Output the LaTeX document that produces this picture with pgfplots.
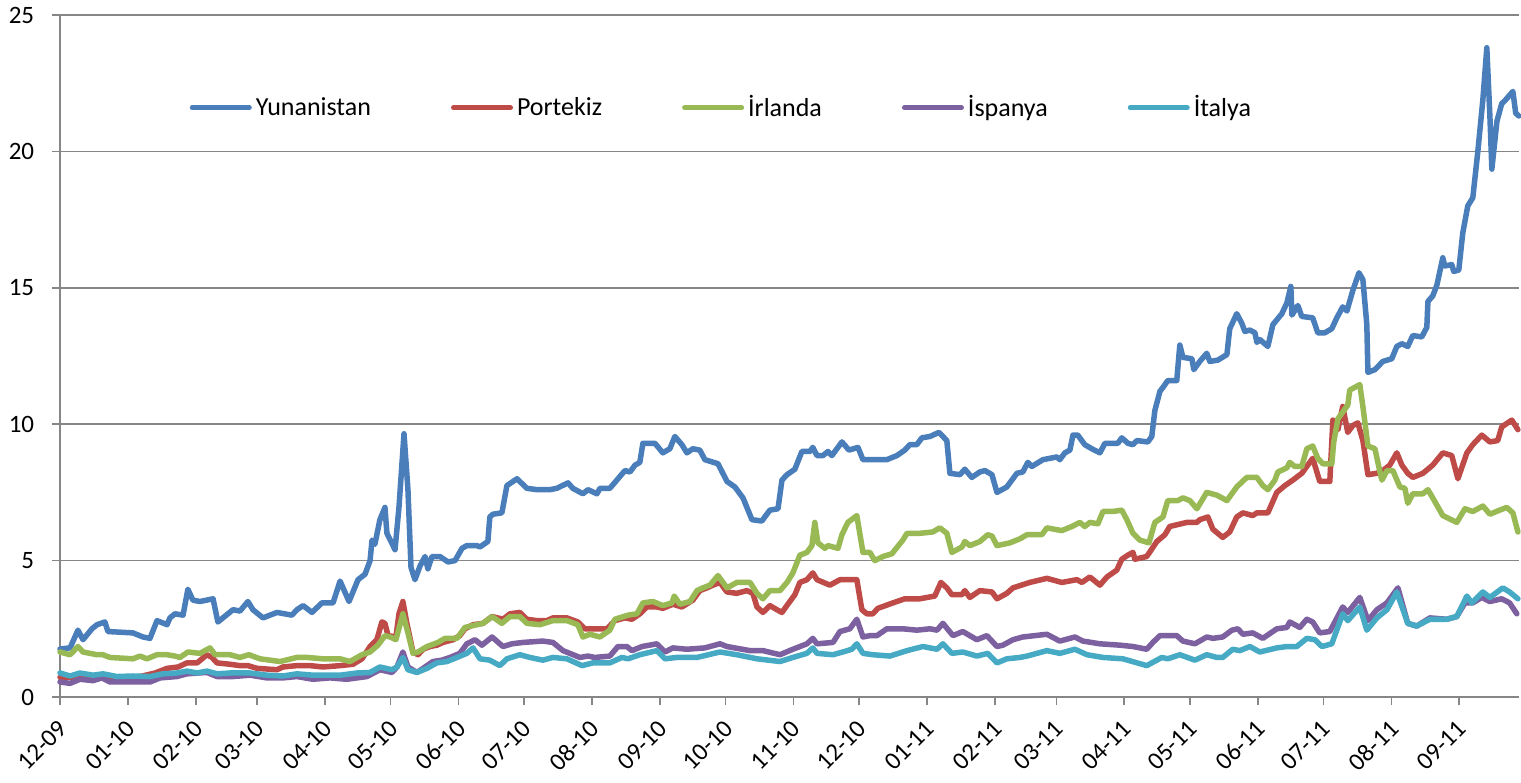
\documentclass[border=0pt]{standalone}
\usepackage{fontspec}
\setmainfont{Carlito}
\usepackage{pgfplots}
\pgfplotsset{compat=1.18}
\definecolor{grc}{HTML}{4A7EBB}
\definecolor{prc}{HTML}{BE4B48}
\definecolor{irc}{HTML}{98B954}
\definecolor{esc}{HTML}{7D60A0}
\definecolor{itc}{HTML}{46AAC5}
\definecolor{gridc}{HTML}{868686}
\begin{document}
\begin{tikzpicture}
\begin{axis}[
  scale only axis,
  width=729.5pt, height=341pt,
  xmin=0, xmax=666.3, ymin=0, ymax=25,
  axis lines=left,
  axis line style={-, draw=gridc, line width=0.8pt},
  ytick={0,5,10,15,20,25},
  xtick={0,31,62,90,121,151,182,212,243,274,304,335,365,396,427,455,486,516,547,577,608,639},
  xticklabels={12-09,01-10,02-10,03-10,04-10,05-10,06-10,07-10,08-10,09-10,10-10,11-10,12-10,01-11,02-11,03-11,04-11,05-11,06-11,07-11,08-11,09-11},
  tick align=outside,
  major tick length=3.75pt,
  tick style={draw=gridc, line width=0.8pt},
  ymajorgrids,
  major grid style={draw=gridc, line width=0.8pt},
  /pgf/number format/assume math mode=true,
  ticklabel style={font=\fontsize{12.5}{15}\selectfont, text=black},
  xticklabel style={xshift=1.5pt, yshift=-10pt, rotate=45, anchor=east, inner sep=0pt},
  yticklabel style={inner sep=0pt, xshift=-9pt},
  legend style={at={(0.454,0.864)}, anchor=center, draw=none, fill=none,
    legend columns=5, font=\fontsize{13}{15}\selectfont,
    /tikz/every even column/.append style={column sep=38pt}},
  legend image code/.code={\draw[line width=2.5pt, line cap=round] (0pt,0pt) -- (28.5pt,0pt);},
  every axis plot/.append style={line width=2.75pt, line join=round, line cap=round, mark=none},
  clip=false,
]
\coordinate (bl) at (rel axis cs:0,0);
\coordinate (tr) at (rel axis cs:1,1);

% Yunanistan
\addplot[grc] coordinates {
(0,1.76)(4.6,1.8)(8.2,2.45)(10.5,2.1)(14.6,2.5)(16.9,2.65)(20.5,2.75)(21.9,2.4)
(33.3,2.35)(37.9,2.2)(41.1,2.15)(44.3,2.8)(48.9,2.65)(50.2,2.9)(52.5,3.05)(56.2,3.0)
(58.4,3.95)(60.7,3.55)(63.9,3.5)(69.9,3.6)(72.1,2.75)(74.4,2.9)(79.0,3.2)(82.2,3.15)
(85.8,3.5)(88.1,3.2)(92.7,2.9)(99.1,3.1)(105.9,3.0)(108.2,3.2)(111.0,3.35)(115.1,3.1)
(119.6,3.45)(124.7,3.45)(127.9,4.25)(132.0,3.5)(136.1,4.3)(139.3,4.5)(141.6,5.0)(142.5,5.75)
(143.8,5.6)(146.1,6.5)(148.4,6.95)(149.3,6.0)(153.0,5.4)(154.8,6.95)(157.1,9.65)(158.9,7.6)
(160.3,4.75)(162.1,4.3)(164.4,4.8)(166.7,5.15)(168.0,4.7)(169.9,5.15)(173.5,5.15)(177.2,4.95)
(180.4,5.0)(183.6,5.45)(185.8,5.55)(190.4,5.55)(191.8,5.5)(195.4,5.7)(196.3,6.6)(197.7,6.7)
(201.8,6.75)(204.1,7.75)(208.7,8.0)(213.2,7.65)(217.8,7.6)(223.7,7.6)(226.9,7.65)(232.0,7.85)
(234.2,7.65)(238.8,7.45)(241.1,7.6)(245.2,7.45)(246.6,7.65)(251.1,7.65)(254.3,7.95)(258.0,8.3)
(260.3,8.25)(262.6,8.5)(264.8,8.6)(266.2,9.3)(271.7,9.3)(275.3,8.95)(278.5,9.1)(280.8,9.55)
(284.0,9.25)(286.3,8.95)(289.0,9.1)(292.2,9.05)(294.5,8.7)(300.5,8.55)(304.6,7.9)(308.2,7.7)
(311.9,7.3)(316.0,6.5)(320.5,6.45)(324.2,6.85)(327.9,6.9)(329.7,7.95)(332.0,8.15)(335.6,8.35)
(338.8,9.0)(342.5,9.0)(343.8,9.15)(345.7,8.85)(348.4,8.85)(350.7,9.0)(352.5,8.85)(357.1,9.35)
(360.3,9.05)(364.4,9.15)(366.7,8.7)(372.1,8.7)(377.6,8.7)(382.2,8.85)(385.8,9.05)(388.1,9.25)
(391.3,9.25)(393.6,9.5)(397.3,9.55)(401.4,9.7)(405.0,9.4)(406.4,8.2)(411.0,8.15)(413.2,8.35)
(416.4,8.05)(420.1,8.25)(422.4,8.3)(425.6,8.15)(427.9,7.5)(432.4,7.7)(437.0,8.2)(439.7,8.25)
(442.0,8.6)(443.8,8.45)(448.9,8.7)(455.3,8.8)(456.6,8.7)(458.9,8.95)(461.2,9.05)(462.6,9.6)
(464.8,9.6)(468.0,9.25)(471.2,9.1)(474.9,8.95)(477.2,9.3)(483.1,9.3)(484.9,9.5)(487.7,9.3)
(490.0,9.25)(491.8,9.4)(496.8,9.35)(498.6,9.55)(500.0,10.5)(502.3,11.2)(503.7,11.35)(505.9,11.6)
(510.0,11.6)(511.4,12.9)(512.8,12.45)(516.9,12.4)(517.8,12.0)(520.5,12.3)(523.7,12.6)(525.1,12.3)
(528.8,12.35)(532.9,12.55)(534.2,13.5)(537.4,14.05)(539.7,13.7)(541.1,13.4)(543.4,13.45)(545.7,13.35)
(546.6,13.0)(548.0,13.1)(551.6,12.85)(553.9,13.65)(558.0,14.05)(560.3,14.45)(562.1,15.05)(562.6,14.0)
(565.3,14.35)(567.1,13.95)(572.1,13.9)(574.4,13.35)(577.6,13.35)(580.8,13.5)(583.1,13.9)(585.8,14.3)
(587.7,14.15)(590.4,14.9)(593.2,15.55)(595.0,15.3)(596.8,13.65)(597.3,11.9)(600.5,12.0)(604.1,12.3)
(608.2,12.4)(610.5,12.85)(612.8,12.95)(615.5,12.85)(617.8,13.25)(621.9,13.2)(624.2,13.55)(624.7,14.5)
(626.9,14.7)(628.8,15.1)(631.5,16.1)(632.4,15.8)(635.6,15.85)(636.5,15.6)(638.8,15.65)(640.6,17.0)
(642.9,18.0)(645.2,18.3)(647.5,20.0)(649.8,21.9)(651.6,23.8)(653.0,21.3)(653.9,19.35)(656.2,21.1)
(658.4,21.75)(660.3,21.9)(663.5,22.2)(664.8,21.4)(666.2,21.3)
};
\addlegendentry{Yunanistan}

% Portekiz
\addplot[prc] coordinates {
(0,0.72)(20,0.7)(35,0.72)(43.4,0.88)(48.9,1.05)(53.9,1.1)(58.0,1.25)(62.6,1.25)
(67.1,1.55)(69.4,1.45)(71.7,1.25)(77.6,1.2)(82.2,1.15)(85.8,1.15)(90.0,1.05)(99.1,1.0)
(101.8,1.1)(108.2,1.15)(114.2,1.15)(120.1,1.1)(127.9,1.15)(133.8,1.2)(137.9,1.4)(141.6,1.85)
(144.7,2.1)(147.0,2.75)(148.4,2.7)(149.8,2.25)(153.4,2.2)(154.8,3.05)(156.6,3.5)(158.4,2.7)
(161.2,1.65)(163.5,1.55)(165.8,1.75)(169.0,1.85)(172.1,1.9)(174.9,2.0)(179.5,2.1)(182.6,2.25)
(184.9,2.5)(188.6,2.65)(193.2,2.7)(197.3,2.95)(202.3,2.85)(205.5,3.05)(210.0,3.1)(213.2,2.85)
(217.8,2.8)(222.4,2.8)(225.1,2.9)(231.5,2.9)(236.5,2.75)(239.7,2.5)(242.9,2.5)(249.8,2.5)
(253.4,2.8)(258.0,2.9)(261.2,2.85)(264.8,3.05)(268.0,3.3)(272.6,3.3)(275.3,3.25)(279.9,3.4)
(284.0,3.3)(289.0,3.55)(292.2,3.9)(295.4,4.0)(298.2,4.1)(301.4,4.2)(304.6,3.85)(309.1,3.8)
(313.7,3.9)(316.4,3.8)(318.3,3.3)(321.0,3.1)(324.2,3.35)(327.4,3.2)(329.7,3.1)(333.3,3.5)
(335.6,3.75)(337.9,4.2)(341.1,4.3)(343.8,4.55)(345.7,4.3)(351.6,4.1)(356.2,4.3)(363.9,4.3)
(366.2,3.2)(368.5,3.05)(371.2,3.05)(373.5,3.25)(380.4,3.45)(385.8,3.6)(392.7,3.6)(399.5,3.7)
(402.3,4.2)(405.0,4.0)(407.3,3.75)(411.9,3.75)(413.2,3.9)(415.5,3.65)(420.1,3.9)(425.6,3.85)
(427.9,3.6)(432.4,3.8)(435.2,4.0)(442.9,4.2)(450.7,4.35)(457.5,4.2)(464.4,4.3)(466.7,4.2)
(470.3,4.4)(474.9,4.1)(478.1,4.4)(482.6,4.65)(484.9,5.05)(487.7,5.2)(490.0,5.3)(490.9,5.05)
(496.3,5.15)(500.9,5.7)(504.6,5.95)(506.8,6.25)(514.6,6.4)(519.2,6.4)(520.5,6.5)(524.2,6.6)
(526.5,6.15)(531.0,5.85)(534.2,6.05)(537.4,6.6)(540.2,6.75)(544.7,6.65)(546.6,6.75)(551.6,6.75)
(555.7,7.5)(559.4,7.75)(563.0,7.95)(567.1,8.2)(572.1,8.75)(575.3,7.9)(579.9,7.9)(581.3,10.15)
(583.6,9.8)(585.8,10.65)(588.1,9.7)(590.4,9.95)(592.7,10.05)(595.0,9.4)(597.3,8.15)(601.4,8.2)
(604.1,8.3)(607.3,8.5)(610.5,8.95)(612.8,8.5)(615.5,8.2)(617.8,8.05)(622.4,8.2)(626.9,8.5)
(631.5,8.95)(635.6,8.85)(638.4,8.0)(642.5,8.95)(645.2,9.25)(649.3,9.6)(653.0,9.35)(656.6,9.4)
(658.4,9.9)(663.0,10.15)(665.8,9.8)
};
\addlegendentry{Portekiz}

% Irlanda
\addplot[irc] coordinates {
(0,1.65)(4.6,1.55)(8.2,1.85)(10.5,1.65)(16.9,1.55)(19.6,1.55)(22.8,1.45)(33.3,1.4)
(36.5,1.5)(39.7,1.4)(44.3,1.55)(48.9,1.55)(52.5,1.5)(54.8,1.45)(58.4,1.65)(63.9,1.6)
(68.5,1.8)(70.8,1.55)(77.6,1.55)(82.2,1.45)(86.3,1.55)(91.3,1.4)(100.5,1.3)(108.2,1.45)
(112.8,1.45)(120.1,1.4)(127.9,1.4)(132.4,1.3)(137.9,1.55)(141.6,1.65)(145.2,1.9)(148.4,2.25)
(150.7,2.2)(153.4,2.1)(156.6,3.05)(158.9,2.35)(161.2,1.6)(163.5,1.65)(167.6,1.85)(172.6,2.0)
(175.8,2.15)(181.3,2.15)(184.9,2.55)(190.4,2.65)(193.2,2.7)(197.3,2.95)(201.8,2.7)(205.5,2.95)
(210.0,2.95)(213.2,2.7)(219.2,2.65)(225.1,2.8)(231.5,2.8)(236.5,2.65)(238.8,2.2)(242.0,2.3)
(246.6,2.2)(251.1,2.45)(253.4,2.85)(259.4,3.0)(263.5,3.05)(266.2,3.45)(270.8,3.5)(275.3,3.35)
(279.5,3.45)(280.5,3.7)(283.1,3.4)(287.7,3.5)(290.9,3.9)(293.6,4.0)(296.8,4.1)(300.5,4.45)
(304.6,4.0)(309.1,4.2)(315.1,4.2)(318.3,3.8)(321.0,3.6)(324.2,3.9)(328.8,3.9)(332.0,4.2)
(334.7,4.55)(337.9,5.2)(341.1,5.3)(343.4,5.55)(344.7,6.4)(346.1,5.65)(349.3,5.45)(350.7,5.55)
(355.3,5.45)(357.1,5.95)(359.8,6.4)(363.9,6.65)(366.7,5.3)(369.9,5.3)(372.1,5.0)(375.8,5.15)
(379.9,5.25)(384.9,5.75)(386.8,6.0)(392.7,6.0)(398.6,6.05)(401.8,6.2)(405.0,6.0)(407.3,5.3)
(411.9,5.5)(413.2,5.7)(415.5,5.55)(420.1,5.7)(423.7,5.95)(425.6,5.9)(427.9,5.55)(433.8,5.65)
(438.4,5.8)(441.6,5.95)(448.4,5.95)(450.7,6.2)(457.5,6.1)(462.1,6.25)(465.8,6.4)(468.0,6.25)
(470.3,6.4)(474.0,6.35)(476.3,6.8)(480.8,6.8)(484.9,6.85)(487.2,6.5)(490.0,6.0)(493.2,5.75)
(497.3,5.65)(500.0,6.4)(503.7,6.6)(505.9,7.2)(510.5,7.2)(512.8,7.3)(516.0,7.2)(519.2,6.9)
(523.7,7.5)(528.3,7.4)(532.9,7.2)(537.4,7.7)(542.0,8.05)(546.6,8.05)(549.3,7.75)(551.6,7.6)
(554.8,7.95)(556.2,8.25)(560.3,8.4)(561.6,8.6)(563.9,8.45)(567.1,8.45)(569.4,9.1)(572.1,9.2)
(574.4,8.75)(576.7,8.55)(580.8,8.55)(581.7,9.35)(583.6,10.2)(588.1,10.7)(589.0,11.25)(593.6,11.45)
(595.0,10.65)(597.3,9.2)(600.5,9.1)(602.8,8.25)(603.7,7.95)(606.0,8.3)(608.7,8.3)(611.9,7.7)
(614.2,7.65)(615.5,7.1)(617.8,7.45)(622.4,7.45)(624.7,7.6)(626.9,7.3)(631.5,6.65)(637.9,6.4)
(641.6,6.9)(645.2,6.8)(649.8,7.0)(653.0,6.7)(657.5,6.85)(660.7,6.95)(663.5,6.75)(665.8,6.05)
};
\addlegendentry{İrlanda}

% Ispanya
\addplot[esc] coordinates {
(0,0.55)(4.6,0.5)(9.1,0.65)(15.1,0.6)(19.2,0.7)(22.8,0.55)(33.3,0.55)(41.1,0.55)
(45.7,0.7)(53.4,0.75)(58.0,0.85)(67.1,0.9)(71.7,0.75)(79.0,0.75)(86.8,0.8)(94.5,0.7)
(101.8,0.7)(108.2,0.75)(115.5,0.65)(123.3,0.7)(131.0,0.65)(140.2,0.75)(146.1,1.0)(151.6,0.9)
(153.9,1.1)(156.6,1.65)(158.9,1.1)(163.0,0.9)(165.8,1.05)(170.3,1.3)(174.4,1.35)(178.1,1.45)
(182.6,1.6)(185.8,1.95)(189.5,2.1)(192.7,1.9)(197.3,2.2)(202.3,1.85)(206.4,1.95)(211.4,2.0)
(220.5,2.05)(225.1,2.0)(229.7,1.7)(237.4,1.45)(241.1,1.5)(244.3,1.45)(251.1,1.5)(254.8,1.85)
(258.9,1.85)(261.2,1.7)(265.8,1.85)(272.6,1.95)(276.3,1.65)(279.9,1.8)(286.3,1.75)(294.5,1.8)
(301.4,1.95)(304.6,1.85)(315.1,1.7)(321.0,1.7)(328.8,1.55)(334.7,1.75)(341.1,1.95)(343.8,2.15)
(345.7,1.95)(353.0,2.0)(356.2,2.4)(360.7,2.5)(363.9,2.85)(366.7,2.2)(369.9,2.25)(373.1,2.25)
(377.6,2.5)(384.9,2.5)(391.3,2.45)(397.3,2.5)(400.5,2.45)(403.2,2.7)(407.8,2.25)(412.3,2.4)
(418.7,2.1)(423.3,2.25)(427.9,1.85)(430.6,1.9)(435.2,2.1)(439.7,2.2)(450.7,2.3)(456.6,2.05)
(463.5,2.2)(467.1,2.05)(474.9,1.95)(484.0,1.9)(490.0,1.85)(496.3,1.75)(499.1,2.0)(502.3,2.25)
(510.0,2.25)(512.8,2.05)(518.3,1.95)(523.7,2.2)(526.5,2.15)(531.0,2.2)(535.2,2.45)(537.9,2.5)
(540.2,2.3)(544.7,2.35)(549.3,2.15)(555.7,2.5)(560.3,2.55)(561.6,2.75)(566.2,2.55)(569.4,2.85)
(572.1,2.75)(575.3,2.35)(579.9,2.4)(585.8,3.3)(588.1,3.1)(593.6,3.65)(597.3,2.8)(601.4,3.2)
(606.0,3.45)(611.0,4.0)(615.5,2.7)(619.6,2.6)(625.6,2.9)(633.3,2.85)(637.9,2.95)(641.6,3.45)
(645.2,3.45)(649.3,3.65)(653.0,3.5)(658.4,3.6)(662.0,3.45)(665.3,3.05)
};
\addlegendentry{İspanya}

% Italya
\addplot[itc] coordinates {
(0,0.88)(4.6,0.77)(9.1,0.88)(15.1,0.8)(19.6,0.85)(26.0,0.75)(33.3,0.77)(41.1,0.75)
(47.0,0.85)(53.4,0.88)(58.0,0.95)(62.6,0.88)(67.1,0.95)(71.7,0.85)(77.6,0.88)(86.8,0.88)
(94.5,0.8)(101.8,0.77)(108.2,0.85)(115.5,0.8)(127.9,0.8)(135.6,0.88)(141.6,0.9)(146.1,1.1)
(151.6,1.0)(153.9,1.1)(156.6,1.45)(158.9,1.0)(163.0,0.9)(167.6,1.05)(172.1,1.25)(176.7,1.3)
(181.3,1.45)(185.8,1.6)(188.6,1.8)(191.8,1.4)(196.3,1.35)(200.9,1.15)(204.1,1.4)(210.0,1.55)
(214.6,1.45)(220.5,1.35)(225.1,1.45)(231.5,1.4)(238.4,1.15)(243.4,1.25)(251.1,1.25)(256.6,1.45)
(259.4,1.4)(264.8,1.55)(272.6,1.7)(276.3,1.4)(281.7,1.45)(290.9,1.45)(301.4,1.65)(309.1,1.55)
(318.3,1.4)(328.8,1.3)(334.7,1.45)(341.1,1.6)(343.8,1.8)(345.7,1.6)(353.0,1.55)(357.5,1.65)
(361.6,1.75)(363.9,1.95)(366.7,1.6)(371.2,1.55)(379.0,1.5)(386.8,1.7)(394.1,1.85)(397.3,1.8)
(400.5,1.75)(403.2,1.95)(407.3,1.6)(412.3,1.65)(418.7,1.5)(423.7,1.6)(427.9,1.25)(432.4,1.4)
(438.4,1.45)(441.6,1.5)(450.7,1.7)(456.6,1.6)(463.5,1.75)(469.0,1.55)(476.3,1.45)(485.4,1.4)
(496.3,1.15)(503.2,1.45)(505.9,1.4)(511.4,1.55)(518.3,1.35)(523.7,1.55)(528.3,1.45)(531.0,1.45)
(535.6,1.75)(538.8,1.7)(543.4,1.85)(547.9,1.65)(555.7,1.8)(560.3,1.85)(564.8,1.85)(569.4,2.15)
(573.1,2.1)(576.3,1.85)(580.8,1.95)(585.8,3.05)(588.1,2.8)(593.6,3.3)(596.8,2.45)(601.4,2.9)
(606.0,3.2)(610.5,3.85)(615.5,2.7)(619.6,2.6)(625.6,2.85)(633.3,2.85)(637.9,2.95)(642.5,3.7)
(644.7,3.45)(649.8,3.85)(653.0,3.65)(658.9,4.0)(662.0,3.85)(665.8,3.6)
};
\addlegendentry{İtalya}
\end{axis}
\pgfresetboundingbox
\path ([shift={(-30pt,-42.5pt)}]bl) rectangle ([shift={(1pt,7.5pt)}]tr);
\end{tikzpicture}
\end{document}
